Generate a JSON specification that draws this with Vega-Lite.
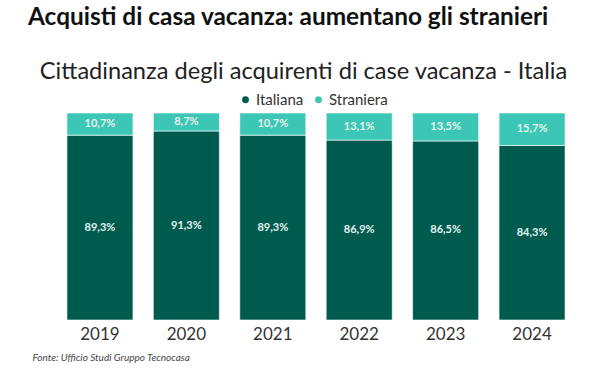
{
  "$schema": "https://vega.github.io/schema/vega-lite/v6.json",
  "width": 518,
  "height": 207,
  "autosize": {"type": "none"},
  "padding": {"left": 57, "top": 113, "right": 25, "bottom": 66},
  "background": "white",
  "config": {
    "font": "Lato",
    "view": {"stroke": null},
    "locale": {"number": {"decimal": ",", "thousands": ".", "grouping": [3], "currency": ["€", ""]}}
  },
  "title": {
    "text": "Acquisti di casa vacanza: aumentano gli stranieri",
    "anchor": "start",
    "frame": "group",
    "dx": -29,
    "fontSize": 24.4,
    "font": "Lato",
    "fontWeight": "bold",
    "color": "#111111",
    "offset": 29
  },
  "data": {
    "values": [
      {"year": "2019", "cit": "Italiana", "share": 0.893},
      {"year": "2019", "cit": "Straniera", "share": 0.107},
      {"year": "2020", "cit": "Italiana", "share": 0.913},
      {"year": "2020", "cit": "Straniera", "share": 0.087},
      {"year": "2021", "cit": "Italiana", "share": 0.893},
      {"year": "2021", "cit": "Straniera", "share": 0.107},
      {"year": "2022", "cit": "Italiana", "share": 0.869},
      {"year": "2022", "cit": "Straniera", "share": 0.131},
      {"year": "2023", "cit": "Italiana", "share": 0.865},
      {"year": "2023", "cit": "Straniera", "share": 0.135},
      {"year": "2024", "cit": "Italiana", "share": 0.843},
      {"year": "2024", "cit": "Straniera", "share": 0.157}
    ]
  },
  "transform": [
    {"stack": "share", "groupby": ["year"], "sort": [{"field": "cit", "order": "ascending"}], "as": ["y0", "y1"]},
    {"calculate": "(datum.y0 + datum.y1) / 2", "as": "ymid"}
  ],
  "layer": [
    {
      "mark": {"type": "bar", "stroke": "white", "strokeWidth": 0.6},
      "encoding": {
        "x": {
          "field": "year", "type": "ordinal",
          "scale": {"paddingInner": 0.236, "paddingOuter": 0.115},
          "axis": {
            "orient": "bottom", "labelAngle": 0, "labelFontSize": 17, "labelColor": "#333333",
            "labelPadding": 6, "ticks": false, "domain": false,
            "title": "Fonte: Ufficio Studi Gruppo Tecnocasa",
            "titleFontSize": 10, "titleFontStyle": "italic", "titleFontWeight": "normal",
            "titleColor": "#444444", "titleAnchor": "start", "titleAlign": "left",
            "titleX": -25, "titleY": 32, "titleBaseline": "top"
          }
        },
        "y": {"field": "y0", "type": "quantitative", "scale": {"domain": [0, 1]}, "axis": null},
        "y2": {"field": "y1"},
        "color": {
          "field": "cit", "type": "nominal",
          "scale": {"domain": ["Italiana", "Straniera"], "range": ["#005B4F", "#3CC6B5"]},
          "legend": {
            "title": null, "orient": "none", "legendX": 181, "legendY": -21,
            "direction": "horizontal", "symbolType": "circle", "symbolSize": 70,
            "labelFontSize": 15, "labelColor": "#333333", "labelOffset": 3, "columnPadding": 7
          }
        }
      }
    },
    {
      "mark": {"type": "text", "fontSize": 11, "fontWeight": "bold", "color": "#E4F2EF", "baseline": "middle"},
      "encoding": {
        "x": {
          "field": "year", "type": "ordinal",
          "axis": {
            "orient": "top", "labels": false, "ticks": false, "domain": false,
            "title": "Cittadinanza degli acquirenti di case vacanza - Italia",
            "titleFontSize": 23.6, "titleFontWeight": "normal", "titleColor": "#222222",
            "titleX": 246, "titleAlign": "center", "titlePadding": 30
          }
        },
        "y": {"field": "ymid", "type": "quantitative"},
        "text": {"field": "share", "type": "quantitative", "format": ".1%"}
      }
    }
  ],
  "resolve": {"axis": {"x": "independent"}}
}
